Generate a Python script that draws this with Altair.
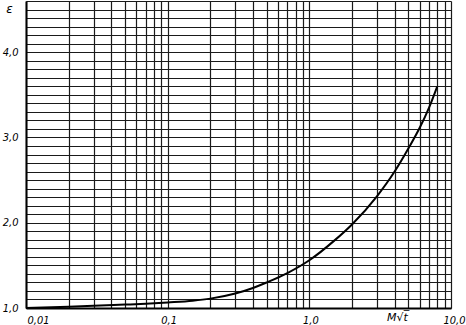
import altair as alt
import pandas as pd

# curve
x_vals = [0.01, 0.02, 0.03, 0.05, 0.07, 0.1, 0.15, 0.2, 0.3, 0.4, 0.5, 0.7, 1.0, 1.5, 2.0, 3.0, 4.0, 5.0, 6.0, 7.0, 8.0]
eps_vals = [1.00, 1.015, 1.025, 1.04, 1.05, 1.065, 1.085, 1.11, 1.17, 1.235, 1.30, 1.41, 1.56, 1.79, 1.98, 2.31, 2.60, 2.87, 3.11, 3.35, 3.60]

# grid / tick definitions
decades = [0.01, 0.1, 1.0]
mantissas = [1, 2, 3, 4, 5, 6, 7, 8, 9]
x_ticks = [round(d * m, 4) for d in decades for m in mantissas] + [10.0]
x_labels = {0.01: "0,01", 0.1: "0,1", 1.0: "1,0", 10.0: "10,0"}
y_ticks = [round(1.0 + 0.1 * i, 1) for i in range(37)]
y_labels = {1.0: "1,0", 2.0: "2,0", 3.0: "3,0", 4.0: "4,0"}

df = pd.DataFrame({"x": x_vals, "eps": eps_vals})

x_expr = " : ".join(
    f"abs(datum.value - {k}) < {k * 0.01} ? '{v}'" for k, v in x_labels.items()
) + " : ''"
y_expr = " : ".join(
    f"abs(datum.value - {k}) < 0.01 ? '{v}'" for k, v in y_labels.items()
) + " : ''"

FONT = "'Liberation Sans Narrow', 'DejaVu Sans Condensed', 'DejaVu Sans'"
TFONT = "DejaVu Sans"

chart = (
    alt.Chart(df)
    .mark_line(color="black", strokeWidth=2, interpolate="monotone")
    .encode(
        x=alt.X(
            "x:Q",
            scale=alt.Scale(type="log", domain=[0.01, 10], nice=False),
            axis=alt.Axis(
                values=x_ticks,
                labelExpr=x_expr,
                ticks=False,
                grid=True,
                gridColor="#1a1a1a",
                gridWidth=1.2,
                domainColor="black",
                domainWidth=2,
                labelFont=FONT,
                labelFontSize=11,
                labelFontStyle="italic",
                labelColor="black",
                labelPadding=6,
                labelAlign={
                    "condition": [
                        {"test": "datum.value < 0.015", "value": "left"},
                        {"test": "datum.value > 5", "value": "right"},
                    ],
                    "value": "center",
                },
                labelOffset={"condition": {"test": "datum.value > 5", "value": 14}, "value": 1},
                labelOverlap=False,
                labelFlush=False,
                labelBound=False,
                title="M\u221at\u0305",
                titleFont=TFONT,
                titleFontSize=11,
                titleFontStyle="italic",
                titleFontWeight="normal",
                titleColor="black",
                titleX=371,
                titleY=3,
                titleAlign="center",
                titleBaseline="top",
            ),
        ),
        y=alt.Y(
            "eps:Q",
            scale=alt.Scale(domain=[1.0, 4.6], nice=False, zero=False),
            axis=alt.Axis(
                values=y_ticks,
                labelExpr=y_expr,
                ticks=False,
                grid=True,
                gridColor="#1a1a1a",
                gridWidth=1.2,
                domainColor="black",
                domainWidth=2,
                labelFont=FONT,
                labelFontSize=11,
                labelFontStyle="italic",
                labelColor="black",
                labelPadding=8,
                labelOverlap=False,
                labelFlush=False,
                title="\u03b5",
                titleFont=TFONT,
                titleFontSize=12,
                titleFontStyle="italic",
                titleFontWeight="normal",
                titleColor="black",
                titleAngle=0,
                titleX=-17,
                titleY=7,
                titleAlign="center",
                titleBaseline="middle",
            ),
        ),
    )
    .properties(
        width=425,
        height=307,
        autosize=alt.AutoSizeParams(type="none"),
        padding={"left": 26, "top": 1, "right": 15, "bottom": 17},
        background="white",
    )
    .configure_view(strokeWidth=0)
)

chart.save("out.html", embed_options={"renderer": "svg", "actions": False})
